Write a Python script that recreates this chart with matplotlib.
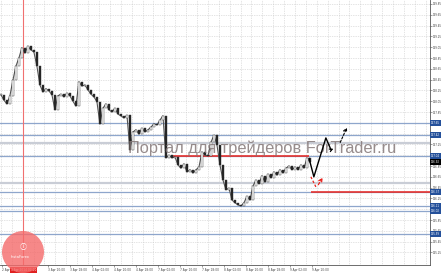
import matplotlib
matplotlib.use("Agg")
import matplotlib.pyplot as plt
import matplotlib.patches as mpatches
from matplotlib.transforms import IdentityTransform, blended_transform_factory
from matplotlib.ticker import MultipleLocator, FixedLocator

# closing prices, one bar every 3 px of the original screenshot
closes = [138.17, 138.07, 138.00, 138.15, 138.44, 138.70, 138.85, 139.04, 138.94, 139.07,
          139.00, 138.96, 138.70, 138.35, 138.22, 138.28, 138.24, 138.17, 137.89, 138.15,
          138.18, 138.13, 138.20, 138.15, 138.05, 137.96, 138.41, 138.33, 138.35, 138.26,
          138.18, 138.13, 138.04, 137.63, 137.92, 138.00, 137.89, 137.85, 137.92, 137.81,
          137.78, 137.74, 137.79, 137.15, 137.48, 137.52, 137.44, 137.55, 137.48, 137.52,
          137.57, 137.63, 137.61, 137.70, 137.78, 137.00, 137.05, 137.00, 137.02, 136.87,
          136.81, 136.89, 136.74, 136.78, 136.72, 136.78, 136.83, 137.11, 137.05, 137.04,
          137.29, 137.42, 137.24, 136.87, 136.59, 136.41, 136.44, 136.22, 136.17, 136.13,
          136.11, 136.17, 136.29, 136.22, 136.48, 136.59, 136.52, 136.67, 136.55, 136.70,
          136.63, 136.74, 136.68, 136.78, 136.72, 136.81, 136.85, 136.78, 136.83, 136.78,
          136.87, 136.81, 137.00, 136.92]
current_price = 136.92

price_ticks = [139.85, 139.65, 139.45, 139.25, 139.05, 138.85, 138.65, 138.45,
               138.25, 138.05, 137.85, 137.65, 137.45, 137.25, 137.05, 136.85,
               136.65, 136.45, 136.25, 136.05, 135.85, 135.65, 135.45, 135.25]

blue_levels = [137.65, 137.42, 137.04, 136.37, 136.11, 136.02, 135.59]
grey_levels = [137.28, 136.54]

# red support / resistance segments: (price, start bar, end bar)
red_segments = [(137.04, 56.7, 102.7), (136.37, 103.3, 143.5)]
marker_bar = 7.3

# hand-drawn forecast
forecast_x = [102.7, 104.3, 108.3, 110.0]
forecast_y = [136.99, 136.65, 137.37, 137.15]
alt_x = [112.7, 115.7]
alt_y = [137.24, 137.61]
red_path_x = [103.3, 105.0]
red_path_y = [136.65, 136.46]
red_arrow_x = [105.3, 107.7]
red_arrow_y = [136.46, 136.68]

time_ticks = [0.2, 15.7, 23, 30.3, 37.7, 45, 52.3, 59.7, 67, 74.3, 81.7, 89, 96.3, 103.7]
time_labels = ["2 Apr", "3 Apr 10:00", "3 Apr 18:00", "4 Apr 02:00", "4 Apr 10:00",
               "4 Apr 18:00", "7 Apr 02:00", "7 Apr 10:00", "7 Apr 18:00", "8 Apr 02:00",
               "8 Apr 10:00", "8 Apr 18:00", "9 Apr 02:00", "9 Apr 10:00"]
marker_label = "3 Apr 2014 02:00"

fig = plt.figure(figsize=(4.43, 2.73), dpi=100)
ax = fig.add_axes([0, 8 / 273, 430 / 443, 265 / 273])
ax.set_xlim(-0.3, 143.0)
ax.set_ylim(135.017, 139.924)

for s in ["left", "top"]:
    ax.spines[s].set_visible(False)
for s in ["right", "bottom"]:
    ax.spines[s].set_color("#555555")
    ax.spines[s].set_linewidth(0.6)

# dotted grid
ax.xaxis.set_minor_locator(MultipleLocator(3.63))
ax.yaxis.set_major_locator(FixedLocator(price_ticks))
ax.grid(which="minor", axis="x", color="#c8c8c8", linestyle=(0, (1, 1.5)), linewidth=0.5)
ax.grid(which="major", axis="y", color="#c8c8c8", linestyle=(0, (1, 1.5)), linewidth=0.5)
ax.set_axisbelow(True)

ax.yaxis.tick_right()
ax.set_yticklabels([f"{p:.2f}" for p in price_ticks])
ax.tick_params(axis="y", which="major", length=1.2, width=0.4, pad=0.5,
               labelsize=1.9, labelcolor="#444444", color="#555555")
ax.xaxis.set_major_locator(FixedLocator(time_ticks))
ax.set_xticklabels(time_labels)
ax.tick_params(axis="x", which="major", length=1.2, width=0.4, pad=0.8,
               labelsize=2.1, labelcolor="#444444", color="#555555")
ax.tick_params(axis="x", which="minor", length=0)
for lab in ax.get_xticklabels():
    lab.set_horizontalalignment("left")

# levels
for lv in grey_levels:
    ax.axhline(lv, color="#c9cdd6", linewidth=1.6, zorder=1)
for lv in blue_levels:
    ax.axhline(lv, color="#8ea6cc", linewidth=0.9, zorder=2)
for p, x0, x1 in red_segments:
    ax.plot([x0, x1], [p, p], color="#e8231e", linewidth=1.1, zorder=3, solid_capstyle="butt")

ax.axvline(marker_bar, color="#f07070", linewidth=0.8, zorder=2)

# watermark
ax.text(0.297, 0.44, "Портал для трейдеров ForTrader.ru", transform=ax.transAxes,
        fontsize=11.8, family="Liberation Sans", color="#857878", alpha=0.85,
        va="center", ha="left", zorder=5)

# candles
opens = [closes[0]] + closes[:-1]
bottoms = [min(o, c) for o, c in zip(opens, closes)]
heights = [max(abs(c - o), 0.01) for o, c in zip(opens, closes)]
colors = ["white" if c >= o else "#222222" for o, c in zip(opens, closes)]
ax.plot(range(len(closes)), closes, color="#555555", linewidth=0.8, zorder=3.5)
ax.bar(range(len(closes)), heights, bottom=bottoms, width=0.55, color=colors,
       edgecolor="#333333", linewidth=0.3, zorder=4)

# forecast drawings
ax.plot(forecast_x, forecast_y, color="black", linewidth=1.0, zorder=6)
ax.annotate("", xy=(forecast_x[-1] + 0.8, forecast_y[-1] + 0.02),
            xytext=(forecast_x[-1], forecast_y[-1]),
            arrowprops=dict(arrowstyle="->", color="black", lw=0.8, mutation_scale=5), zorder=6)
ax.annotate("", xy=(alt_x[1], alt_y[1]), xytext=(alt_x[0], alt_y[0]),
            arrowprops=dict(arrowstyle="->", color="black", lw=0.8, linestyle=(0, (2, 1.5)),
                            mutation_scale=6), zorder=6)
ax.plot(red_path_x, red_path_y, color="#e8231e", linewidth=0.9, linestyle=(0, (2, 1.5)), zorder=6)
ax.annotate("", xy=(red_arrow_x[1], red_arrow_y[1]), xytext=(red_arrow_x[0], red_arrow_y[0]),
            arrowprops=dict(arrowstyle="->", color="#e8231e", lw=0.9, linestyle=(0, (2, 1.5)),
                            mutation_scale=6), zorder=6)

# price boxes on the right axis
trans = blended_transform_factory(ax.transAxes, ax.transData)
for lv in blue_levels:
    ax.text(1.002, lv, f"{lv:.2f}", transform=trans, fontsize=1.9, color="white",
            va="center", ha="left", clip_on=False, zorder=7,
            bbox=dict(boxstyle="square,pad=0.3", facecolor="#24509a", edgecolor="none"))
ax.text(1.002, current_price, f"{current_price:.2f}", transform=trans, fontsize=1.9,
        color="white", va="center", ha="left", clip_on=False, zorder=7,
        bbox=dict(boxstyle="square,pad=0.3", facecolor="black", edgecolor="none"))

# time marker box
trans_x = blended_transform_factory(ax.transData, ax.transAxes)
ax.text(marker_bar - 4.0, -0.012, marker_label, transform=trans_x, fontsize=2.1,
        color="white", va="top", ha="left", clip_on=False, zorder=7,
        bbox=dict(boxstyle="square,pad=0.3", facecolor="#e02020", edgecolor="none"))

# InstaForex seal
seal = mpatches.Circle((23, 21), 21, transform=IdentityTransform(), facecolor="#f46a6a",
                       edgecolor="none", alpha=0.8, zorder=8)
fig.add_artist(seal)
fig.text(23 / 443, 26 / 273, "Ⓘ", fontsize=5, color="white", ha="center", va="center",
         family=["Noto Sans CJK JP", "DejaVu Sans"], zorder=9)
fig.text(20 / 443, 16 / 273, "InstaForex", fontsize=2.6, color="white", ha="center",
         va="center", zorder=9)

fig.savefig("out.png", dpi=100)
